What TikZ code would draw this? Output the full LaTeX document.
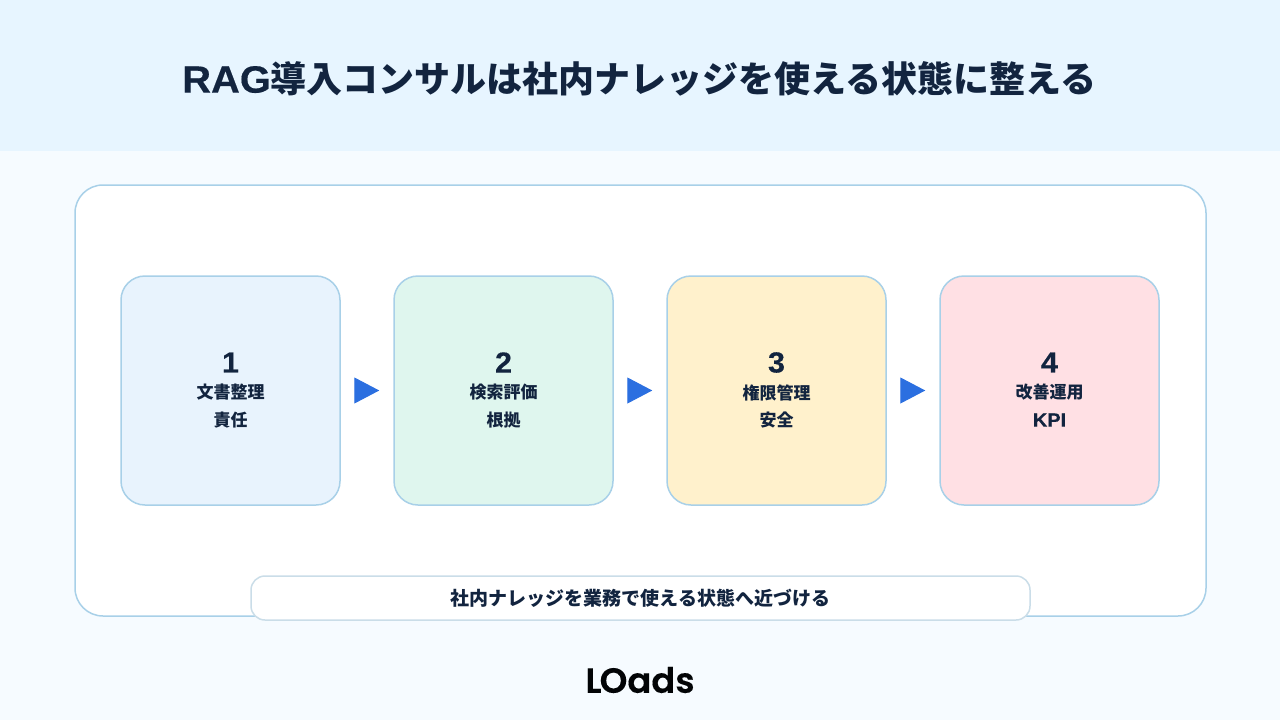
\documentclass[tikz,border=0pt]{standalone}
\usepackage{fontspec}
\setmainfont{Noto Sans CJK JP}
\newfontfamily\logofont[FakeBold=0.3,FakeStretch=1.01]{Poppins SemiBold}
\newfontfamily\numfont[FakeStretch=1.05,BoldFeatures={FakeBold=0.4}]{Liberation Sans}
\usetikzlibrary{arrows.meta}
\definecolor{inkblue}{HTML}{12243F}
\definecolor{bandblue}{HTML}{E7F5FF}
\definecolor{pageblue}{HTML}{F6FBFF}
\definecolor{edgeblue}{HTML}{A8D0E8}
\definecolor{capedge}{HTML}{CADDE8}
\definecolor{arrowblue}{HTML}{2B6FE0}
\definecolor{fillone}{HTML}{E8F3FD}
\definecolor{filltwo}{HTML}{DFF6EE}
\definecolor{fillthree}{HTML}{FFF1CC}
\definecolor{fillfour}{HTML}{FFE0E4}
\tikzset{
	stepbox/.style={draw=edgeblue, line width=1.5pt, rounded corners=24pt, minimum width=219pt, minimum height=229pt, inner sep=0pt},
	numlabel/.style={text=inkblue, font=\numfont\fontsize{29}{29}\selectfont\bfseries, inner sep=0pt},
	steplabel/.style={text=inkblue, font=\fontsize{17}{17}\selectfont\bfseries, inner sep=0pt},
	flow/.style={draw=arrowblue, line width=1pt, -{Triangle[length=25pt,width=26pt,fill=arrowblue]}, shorten <=15pt, shorten >=14pt}
}
\begin{document}
\begin{tikzpicture}[x=1pt,y=-1pt]
		\useasboundingbox (0,0) rectangle (1280,720);
		%background
		\fill[pageblue] (0,0) rectangle (1280,720);
		\fill[bandblue] (0,0) rectangle (1280,151);
		\node[text=inkblue, font=\fontsize{36}{36}\selectfont\bfseries, inner sep=0pt] (title) at (639.5,79) {{\numfont\fontsize{38}{38}\selectfont RAG}導入コンサルは社内ナレッジを使える状態に整える};
		%panel
		\node[draw=edgeblue, fill=white, line width=1.5pt, rounded corners=28pt, minimum width=1131pt, minimum height=431pt, inner sep=0pt] (panel) at (640.5,400.5) {};
		%steps
		\node[stepbox, fill=fillone] (one) at (230.5,390.5) {};
		\node[stepbox, fill=filltwo] (two) at (503.5,390.5) {};
		\node[stepbox, fill=fillthree] (three) at (776.5,390.5) {};
		\node[stepbox, fill=fillfour] (four) at (1049.5,390.5) {};
		%labels
		\foreach \name/\num/\top/\bottom in {one/1/文書整理/責任, two/2/検索評価/根拠, three/3/権限管理/安全, four/4/改善運用/{\numfont\fontsize{19}{19}\selectfont KPI}}{
			\node[numlabel] (\name num) at ([yshift=28pt]\name.center) {\num};
			\node[steplabel] (\name top) at ([yshift=-2pt]\name.center) {\top};
			\node[steplabel] (\name bottom) at ([yshift=-29.5pt]\name.center) {\bottom};
		}
		%arrows
		\draw[flow] (one) -- (two);
		\draw[flow] (two) -- (three);
		\draw[flow] (three) -- (four);
		%caption
		\node[draw=capedge, fill=white, line width=1.5pt, rounded corners=14pt, minimum width=779pt, minimum height=44pt, inner sep=0pt, text=inkblue, font=\fontsize{19}{19}\selectfont\bfseries] (caption) at (640.5,598) {社内ナレッジを業務で使える状態へ近づける};
		%logo
		\node[text=black!90!inkblue, font=\logofont\fontsize{35}{35}\selectfont, inner sep=0pt] (logo) at (640,680) {L\kern-2ptOads};
	\end{tikzpicture}
\end{document}
